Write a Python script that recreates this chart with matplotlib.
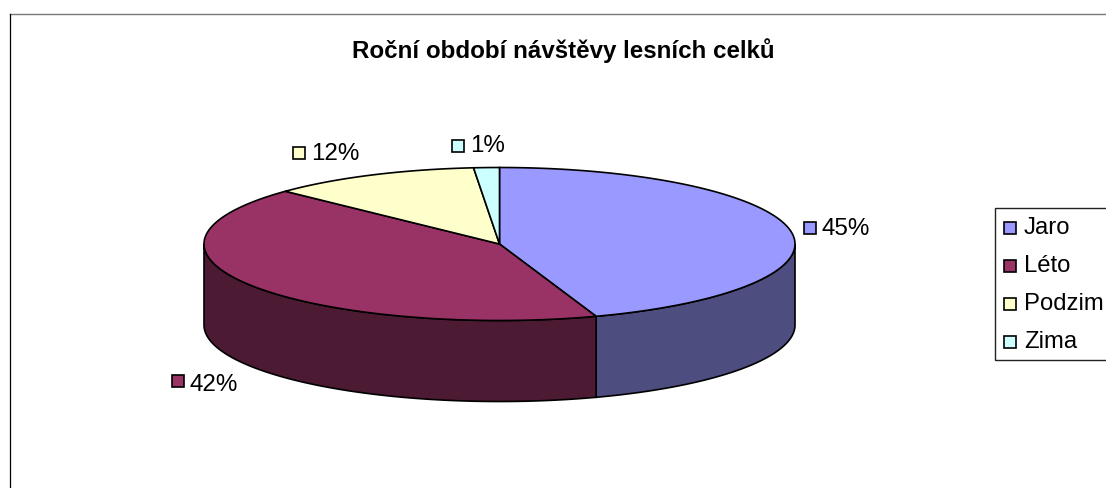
import numpy as np
import matplotlib
matplotlib.use('Agg')
import matplotlib.pyplot as plt
from matplotlib.patches import Polygon, Rectangle

plt.rcParams['font.family'] = ['Liberation Sans', 'DejaVu Sans']

title = 'Roční období návštěvy lesních celků'
seasons = ['Jaro', 'Léto', 'Podzim', 'Zima']
shares = [44.7, 42.4, 11.5, 1.4]
share_labels = ['45%', '42%', '12%', '1%']

top_colors = ['#9999FF', '#993366', '#FFFFCC', '#CCFFFF']
side_colors = ['#4D4D80', '#4D1A33', '#80806A', '#6A8080']

# Pie geometry in pixels of the picture
CX, CY = 499.5, 245
RX, RY = 295.5, 76.5
DEPTH = 81


def rim(a0, a1, drop=0):
    # Points on the rim, angle in degrees clockwise from the top
    ang = np.radians(np.linspace(a0, a1, 200))
    return np.column_stack((CX + RX * np.sin(ang), CY - RY * np.cos(ang) + drop))


fig = plt.figure(figsize=(11.06, 4.89), dpi=100)
ax = fig.add_axes([0, 0, 1, 1])
ax.set_xlim(0, 1106)
ax.set_ylim(489, 0)
ax.axis('off')

# Chart area border, cut off by the picture on the right and at the bottom
ax.plot([9.5, 1106], [15, 15], color='#777777', lw=1.0, zorder=1)
ax.plot([9.5, 9.5], [489, 15], color='black', lw=0.9, zorder=1)

edges = np.concatenate(([0], np.cumsum(shares))) / np.sum(shares) * 360

# Side wall: only what lies on the front half of the rim
for i in range(len(shares)):
    a0, a1 = max(edges[i], 90), min(edges[i + 1], 270)
    if a0 >= a1:
        continue
    pts = np.vstack((rim(a0, a1), rim(a0, a1, DEPTH)[::-1]))
    ax.add_patch(Polygon(pts, closed=True, fc=side_colors[i], ec='black', lw=1.2, zorder=2))

# Top face
for i in range(len(shares)):
    pts = np.vstack(([[CX, CY]], rim(edges[i], edges[i + 1])))
    ax.add_patch(Polygon(pts, closed=True, fc=top_colors[i], ec='black', lw=1.2, zorder=3))

ax.text(563.5, 51, title, fontsize=17.4, fontweight='bold', ha='center', va='center')

# Data labels with their colour key
label_x = [804, 172, 293, 452]
label_y = [229, 382, 154, 147]
text_y = [229, 385, 154.5, 146.5]
for i, lab in enumerate(share_labels):
    ax.add_patch(Rectangle((label_x[i], label_y[i] - 6), 12, 12, fc=top_colors[i],
                           ec='black', lw=1.2, zorder=4))
    ax.text(label_x[i] + 18, text_y[i], lab, fontsize=17.4, ha='left', va='center')

# Legend
ax.add_patch(Rectangle((994.5, 208.5), 130, 152, fc='white', ec='#222222', lw=1.0, zorder=4))
legend_y = [229, 267, 305, 343]
for i, name in enumerate(seasons):
    ax.add_patch(Rectangle((1004, legend_y[i] - 6), 12, 12, fc=top_colors[i],
                           ec='black', lw=1.2, zorder=5))
    ax.text(1024, legend_y[i] - 0.5, name, fontsize=17.2, ha='left', va='center', zorder=5)

fig.savefig('out.png', dpi=100)
plt.close('all')
